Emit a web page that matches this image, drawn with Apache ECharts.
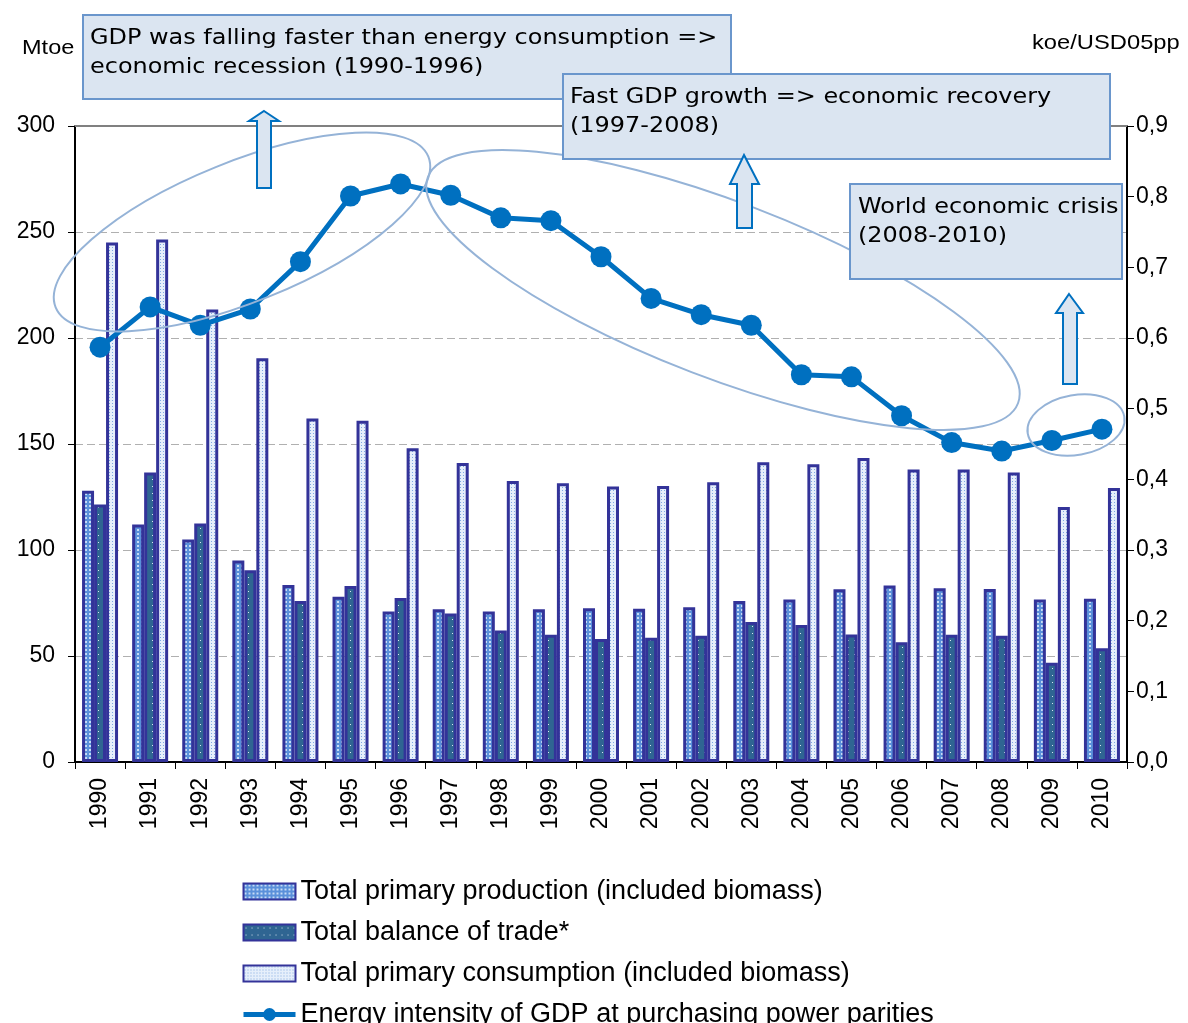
<!DOCTYPE html>
<html>
<head>
<meta charset="utf-8">
<script src="https://cdn.jsdelivr.net/npm/echarts@6/dist/echarts.min.js"></script>
<style>
html,body{margin:0;padding:0;background:#fff;}
#chart{width:1188px;height:1023px;}
</style>
</head>
<body>
<div id="chart"></div>
<script>
const years = ['1990','1991','1992','1993','1994','1995','1996','1997','1998','1999','2000','2001','2002','2003','2004','2005','2006','2007','2008','2009','2010'];
const production = [128, 112, 105, 95, 83.5, 78, 71, 72, 71, 72, 72.5, 72.3, 73, 76, 76.7, 81.5, 83.3, 82, 81.6, 76.7, 77];
const balance = [121.5, 136.5, 112.5, 90.5, 76, 83, 77.4, 70, 62, 60, 58, 58.6, 59.6, 66, 64.6, 60.2, 56.5, 60, 59.6, 46.8, 53.6];
const consumption = [245, 246.5, 213.5, 190.5, 162, 161, 148, 141, 132.5, 131.5, 130, 130.2, 132, 141.4, 140.4, 143.4, 138, 138, 136.5, 120.3, 129.2];
const intensity = [0.587, 0.644, 0.618, 0.641, 0.708, 0.801, 0.818, 0.802, 0.770, 0.766, 0.715, 0.656, 0.633, 0.618, 0.548, 0.545, 0.490, 0.452, 0.440, 0.455, 0.471];
const rightTickLabels = ['0,0','0,1','0,2','0,3','0,4','0,5','0,6','0,7','0,8','0,9'];
const seriesNames = [
  'Total primary production (included biomass)',
  'Total balance of trade*',
  'Total primary consumption (included biomass)',
  'Energy intensity of GDP at purchasing power parities'
];

function pattern(w, h, bg, dotColor, dots) {
  const c = document.createElement('canvas');
  c.width = w; c.height = h;
  const g = c.getContext('2d');
  g.fillStyle = bg; g.fillRect(0, 0, w, h);
  g.fillStyle = dotColor;
  dots.forEach(d => g.fillRect(d[0], d[1], d[2], d[3]));
  return { image: c, repeat: 'repeat' };
}
const patProd = pattern(4, 4, '#5a90da', '#c6dbf5', [[1,1,2,2]]);
const patBal = pattern(6, 7, '#2f6592', '#d8e4ef', [[2,3,1,1]]);
const patCons = pattern(3, 3, '#e6effb', '#7fa8e2', [[1,1,1,1]]);

const chart = echarts.init(document.getElementById('chart'), null, {renderer: 'canvas'});
const deg = Math.PI / 180;
const boxStyle = {fill: '#dbe5f1', stroke: '#6a96cc', lineWidth: 2};
const arrowStyle = {fill: '#dbe5f1', stroke: '#0070c0', lineWidth: 2};
const ellStyle = {fill: 'none', stroke: '#95b3d7', lineWidth: 2};
const annFont = '21px "DejaVu Sans"';
const annScale = 1.14;

function arrow(tipX, tipY, headY, headL, headR, shaftL, shaftR, bottom) {
  return {type: 'polygon', z: 70, shape: {points: [
    [tipX, tipY], [headR, headY], [shaftR, headY], [shaftR, bottom],
    [shaftL, bottom], [shaftL, headY], [headL, headY]
  ]}, style: arrowStyle};
}
function annText(x, y, text) {
  return {type: 'text', z: 80, x: x, y: y, scaleX: annScale,
    style: {text: text, font: annFont, fill: '#000', lineHeight: 29}};
}

const option = {
  animation: false,
  backgroundColor: '#fff',
  grid: {left: 75, right: 61, top: 126, bottom: 261, containLabel: false},
  legend: {
    orient: 'vertical', left: 241, top: 878, height: 200, padding: 0,
    itemWidth: 52, itemHeight: 16, itemGap: 14,
    lineStyle: {width: 'inherit'},
    textStyle: {fontSize: 27, fontFamily: 'Liberation Sans', color: '#000', lineHeight: 26},
    data: [
      {name: seriesNames[0], icon: 'rect'},
      {name: seriesNames[1], icon: 'rect'},
      {name: seriesNames[2], icon: 'rect'},
      {name: seriesNames[3]}
    ]
  },
  xAxis: [
    {
      type: 'category', data: years, boundaryGap: true,
      axisLine: {lineStyle: {color: '#000', width: 2}},
      axisTick: {show: true, length: 7, lineStyle: {color: '#000', width: 1}},
      axisLabel: {rotate: 90, interval: 0, fontSize: 23, fontFamily: 'Liberation Sans', color: '#000', margin: 16}
    },
    {
      type: 'category', data: years, position: 'top',
      axisLine: {show: true, onZero: false, lineStyle: {color: '#808080', width: 2}},
      axisTick: {show: false}, axisLabel: {show: false}
    }
  ],
  yAxis: [
    {
      type: 'value', min: 0, max: 300, interval: 50,
      axisLine: {show: true, lineStyle: {color: '#000', width: 2}},
      axisTick: {show: true, length: 7, lineStyle: {color: '#000'}},
      axisLabel: {fontSize: 23, fontFamily: 'Liberation Sans', color: '#000', margin: 20},
      splitLine: {show: true, lineStyle: {type: [8, 4], color: '#b0b0b0', width: 1}}
    },
    {
      type: 'value', min: 0, max: 0.9, interval: 0.1, position: 'right',
      axisLine: {show: true, lineStyle: {color: '#000', width: 2}},
      axisTick: {show: true, length: 7, lineStyle: {color: '#000'}},
      axisLabel: {fontSize: 23, fontFamily: 'Liberation Sans', color: '#000', margin: 9,
        formatter: v => rightTickLabels[Math.round(v * 10)]},
      splitLine: {show: false}
    }
  ],
  series: [
    {name: seriesNames[0], type: 'bar', data: production, barWidth: 12, barGap: '0%',
     itemStyle: {color: patProd, borderColor: '#333399', borderWidth: 3}},
    {name: seriesNames[1], type: 'bar', data: balance, barWidth: 12, barGap: '0%',
     itemStyle: {color: patBal, borderColor: '#333399', borderWidth: 3}},
    {name: seriesNames[2], type: 'bar', data: consumption, barWidth: 12, barGap: '0%',
     itemStyle: {color: patCons, borderColor: '#333399', borderWidth: 3}},
    {name: seriesNames[3], type: 'line', yAxisIndex: 1, data: intensity, z: 10,
     symbol: 'circle', symbolSize: 21,
     lineStyle: {color: '#0070c0', width: 5}, itemStyle: {color: '#0070c0'}}
  ],
  graphic: [
    {type: 'text', z: 80, x: 22, y: 38, scaleX: 1.12, style: {text: 'Mtoe', font: '21px "Liberation Sans"', fill: '#000'}},
    {type: 'text', z: 80, x: 1032, y: 33, scaleX: 1.13, style: {text: 'koe/USD05pp', font: '21px "Liberation Sans"', fill: '#000'}},
    {type: 'ellipse', z: 50, x: 242, y: 232, rotation: 22 * deg, shape: {cx: 0, cy: 0, rx: 201, ry: 70}, style: ellStyle},
    {type: 'ellipse', z: 50, x: 723, y: 290, rotation: -21 * deg, shape: {cx: 0, cy: 0, rx: 316, ry: 88}, style: ellStyle},
    {type: 'ellipse', z: 50, x: 1076, y: 425, rotation: 10 * deg, shape: {cx: 0, cy: 0, rx: 49, ry: 30}, style: ellStyle},
    {type: 'rect', z: 60, shape: {x: 83, y: 15, width: 648, height: 84}, style: boxStyle},
    annText(90, 24, 'GDP was falling faster than energy consumption =>\neconomic recession (1990-1996)'),
    {type: 'rect', z: 61, shape: {x: 563, y: 74, width: 547, height: 85}, style: boxStyle},
    annText(570, 83, 'Fast GDP growth => economic recovery\n(1997-2008)'),
    {type: 'rect', z: 60, shape: {x: 850, y: 184, width: 272, height: 95}, style: boxStyle},
    annText(858, 193, 'World economic crisis\n(2008-2010)'),
    arrow(264, 111, 121, 249, 279, 257, 271, 188),
    arrow(744, 155, 184, 730, 759, 737, 752, 228),
    arrow(1069, 294, 313, 1056, 1083, 1063, 1077, 384)
  ]
};
chart.setOption(option);
</script>
</body>
</html>
